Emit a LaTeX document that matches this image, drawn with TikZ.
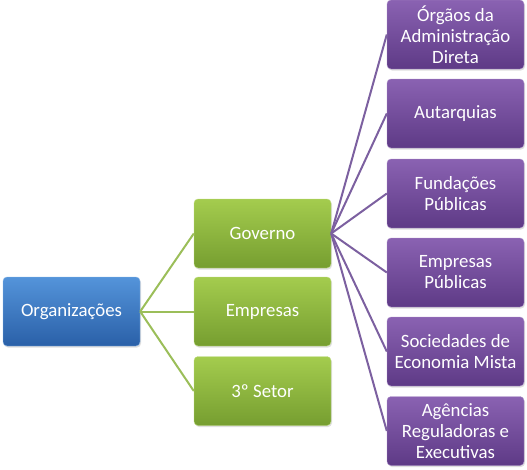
\documentclass[tikz,border=0pt]{standalone}
\usepackage{fontspec}
\setmainfont{Carlito}
\usetikzlibrary{shadows}

\definecolor{orgtop}{RGB}{84,148,218}
\definecolor{orgbot}{RGB}{42,96,168}
\definecolor{grntop}{RGB}{164,204,78}
\definecolor{grnbot}{RGB}{118,158,48}
\definecolor{grnline}{RGB}{155,190,89}
\definecolor{purtop}{RGB}{138,98,178}
\definecolor{purbot}{RGB}{94,58,134}
\definecolor{purline}{RGB}{124,96,160}

\begin{document}
\begin{tikzpicture}[x=1pt, y=-1pt,
    caixa/.style={draw, rectangle, rounded corners=4pt, minimum width=137pt, minimum height=69pt,
        text=white, align=center, font=\fontsize{18.8}{21}\selectfont,
        drop shadow={opacity=0.25, shadow xshift=1pt, shadow yshift=-1.5pt}},
    azul/.style={caixa, draw=orgtop!70!white, top color=orgtop, bottom color=orgbot},
    verde/.style={caixa, draw=grntop!70!white, top color=grntop, bottom color=grnbot},
    roxo/.style={caixa, draw=purtop!70!white, top color=purtop, bottom color=purbot}]
    \useasboundingbox (0,0) rectangle (527,469);

    % 箱を描画
    \node[azul] (org) at (71.5, 311.5) {Organizações};
    \node[verde] (gov) at (262.5, 233.5) {Governo};
    \node[verde] (emp) at (262.5, 311.5) {Empresas};
    \node[verde] (set) at (262.5, 391) {3º Setor};
    \node[roxo] (adm) at (455.5, 34.5) {Órgãos da\\Administração\\Direta};
    \node[roxo] (aut) at (455.5, 113.5) {Autarquias};
    \node[roxo] (fun) at (455.5, 193.5) {Fundações\\Públicas};
    \node[roxo] (epu) at (455.5, 272.5) {Empresas\\Públicas};
    \node[roxo] (soc) at (455.5, 351.5) {Sociedades de\\Economia Mista};
    \node[roxo] (age) at (455.5, 431) {Agências\\Reguladoras e\\Executivas};

    % 線を描画
    \draw[grnline, line width=2pt] (org.east) -- (gov.west);
    \draw[grnline, line width=2pt] (org.east) -- (emp.west);
    \draw[grnline, line width=2pt] (org.east) -- (set.west);
    \draw[purline, line width=2pt] (gov.east) -- (adm.west);
    \draw[purline, line width=2pt] (gov.east) -- (aut.west);
    \draw[purline, line width=2pt] (gov.east) -- (fun.west);
    \draw[purline, line width=2pt] (gov.east) -- (epu.west);
    \draw[purline, line width=2pt] (gov.east) -- (soc.west);
    \draw[purline, line width=2pt] (gov.east) -- (age.west);
\end{tikzpicture}
\end{document}
